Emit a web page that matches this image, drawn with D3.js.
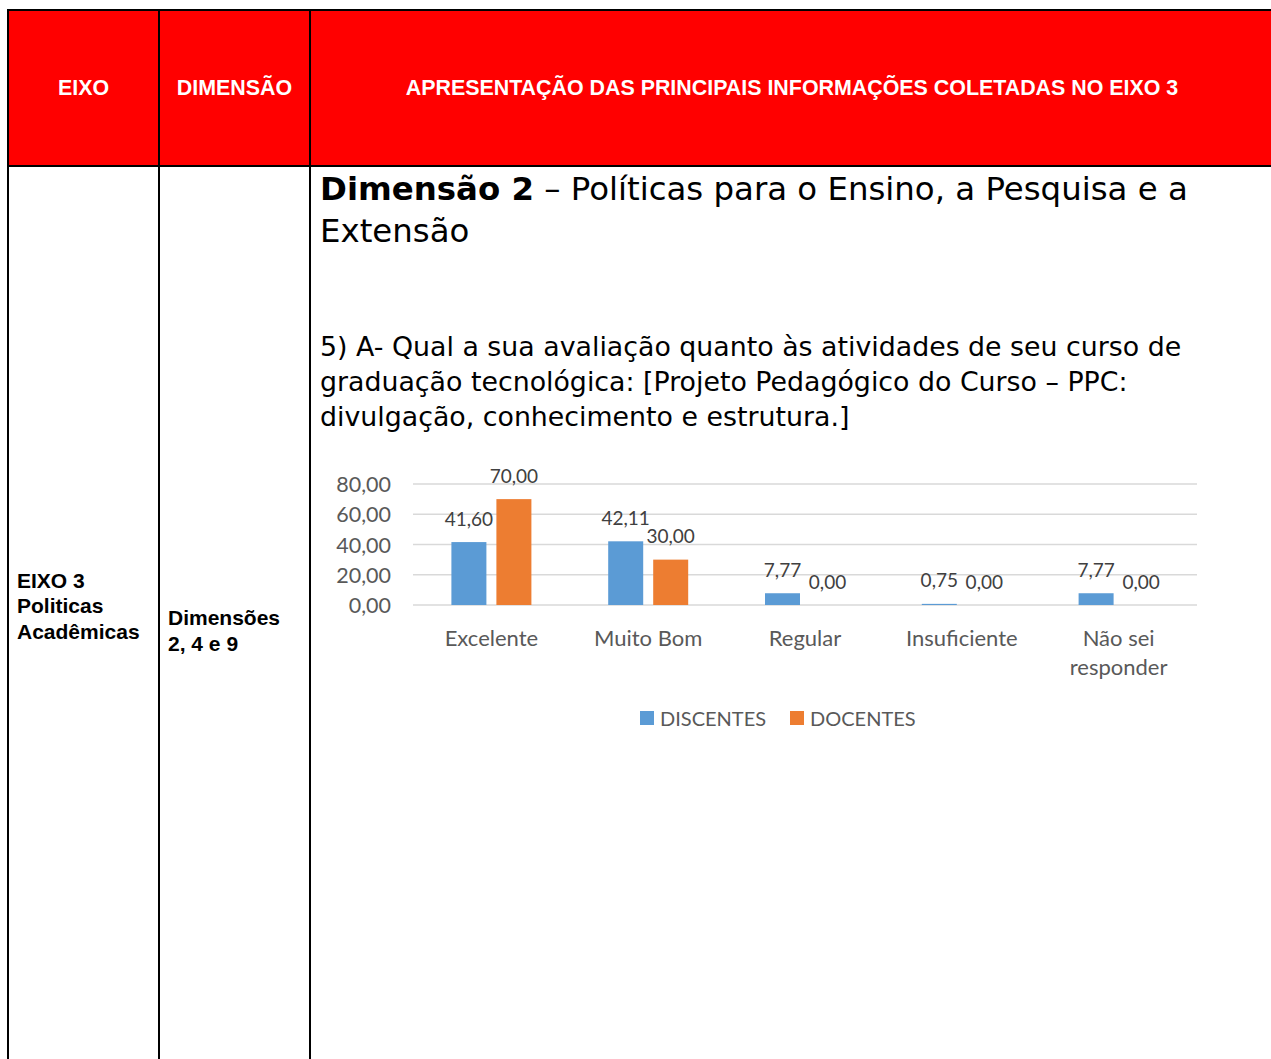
<!DOCTYPE html>
<html>
<head>
<meta charset="utf-8">
<script src="https://cdn.jsdelivr.net/npm/d3@7"></script>
<style>
  html, body { margin: 0; padding: 0; background: #fff; }
</style>
</head>
<body>
<div id="page"></div>
<script>
// chart data
var categories = ["Excelente", "Muito Bom", "Regular", "Insuficiente", "Não sei responder"];
var discentes = [41.60, 42.11, 7.77, 0.75, 7.77];
var docentes = [70.00, 30.00, 0.00, 0.00, 0.00];
var seriesNames = ["DISCENTES", "DOCENTES"];
var yTicks = [0, 20, 40, 60, 80];

// table texts
var headers = ["EIXO", "DIMENSÃO", "APRESENTAÇÃO DAS PRINCIPAIS INFORMAÇÕES COLETADAS NO EIXO 3"];
var eixoLines = ["EIXO 3", "Politicas", "Acadêmicas"];
var dimLines = ["Dimensões", "2, 4 e 9"];
var questionLines = [
  "5) A- Qual a sua avaliação quanto às atividades de seu curso de",
  "graduação tecnológica: [Projeto Pedagógico do Curso – PPC:",
  "divulgação, conhecimento e estrutura.]"
];

var W = 1271, H = 1059;
var colX = [8, 159, 310, 1275];
var tableTop = 10, headBottom = 166;

var svg = d3.select("#page").append("svg")
    .attr("width", W)
    .attr("height", H)
    .style("display", "block");

// header cells
svg.append("rect")
    .attr("x", colX[0]).attr("y", tableTop)
    .attr("width", colX[3] - colX[0]).attr("height", headBottom - tableTop)
    .attr("fill", "#ff0000");

headers.forEach(function(h, i) {
  svg.append("text")
    .attr("x", i == 2 ? 792 : (colX[i] + colX[i + 1]) / 2)
    .attr("y", 88)
    .attr("text-anchor", "middle")
    .attr("dominant-baseline", "central")
    .style("font-family", "'Liberation Sans', Arial, sans-serif")
    .style("font-weight", "bold")
    .style("font-size", "21.4px")
    .attr("fill", "#fff")
    .text(h);
});

// grid lines of the table
var lineColor = "#000";
svg.append("line").attr("x1", colX[0] - 1).attr("x2", W).attr("y1", tableTop).attr("y2", tableTop)
    .attr("stroke", lineColor).attr("stroke-width", 2);
svg.append("line").attr("x1", colX[0] - 1).attr("x2", W).attr("y1", headBottom).attr("y2", headBottom)
    .attr("stroke", lineColor).attr("stroke-width", 2);
colX.slice(0, 3).forEach(function(x) {
  svg.append("line").attr("x1", x).attr("x2", x).attr("y1", tableTop - 1).attr("y2", H + 5)
      .attr("stroke", lineColor).attr("stroke-width", 2);
});

// left column texts
var boldArial = function(sel) {
  sel.style("font-family", "'Liberation Sans', Arial, sans-serif")
     .style("font-weight", "bold")
     .style("font-size", "21px")
     .attr("fill", "#000");
};
eixoLines.forEach(function(t, i) {
  svg.append("text").attr("x", 17).attr("y", 580 + i * 25.5)
    .attr("dominant-baseline", "central").call(boldArial).text(t);
});
dimLines.forEach(function(t, i) {
  svg.append("text").attr("x", 168).attr("y", 617 + i * 26)
    .attr("dominant-baseline", "central").call(boldArial).text(t);
});

// title in the main cell
var verdana = "'DejaVu Sans', Verdana, sans-serif";
var title = svg.append("text")
    .attr("x", 320).attr("y", 189)
    .attr("dominant-baseline", "central")
    .style("font-family", verdana)
    .style("font-size", "32.4px")
    .attr("fill", "#000");
title.append("tspan").style("font-weight", "bold").text("Dimensão 2");
title.append("tspan").text(" – Políticas para o Ensino, a Pesquisa e a");
svg.append("text")
    .attr("x", 320).attr("y", 231)
    .attr("dominant-baseline", "central")
    .style("font-family", verdana)
    .style("font-size", "32.4px")
    .text("Extensão");

questionLines.forEach(function(t, i) {
  svg.append("text")
    .attr("x", 320).attr("y", 346 + i * 35)
    .attr("dominant-baseline", "central")
    .style("font-family", verdana)
    .style("font-size", "26.8px")
    .text(t);
});

// chart
var chartFont = "Lato, 'Open Sans', sans-serif";
var textGray = "#595959";
var fmt = function(v) { return d3.format(".2f")(v).replace(".", ","); };

var x = d3.scaleBand()
    .domain(categories)
    .range([413, 1197]);

var y = d3.scaleLinear()
    .domain([0, 80])
    .range([605, 484]);

var barW = 35, gap = 10;

var chart = svg.append("g");

// gridlines
chart.append("g")
  .selectAll("line")
  .data(yTicks)
  .enter()
  .append("line")
    .attr("x1", x.range()[0])
    .attr("x2", x.range()[1])
    .attr("y1", function(d) { return y(d); })
    .attr("y2", function(d) { return y(d); })
    .attr("stroke", "#d9d9d9")
    .attr("stroke-width", 1.5);

// y tick labels
chart.append("g")
  .selectAll("text")
  .data(yTicks)
  .enter()
  .append("text")
    .attr("x", 391)
    .attr("y", function(d) { return y(d); })
    .attr("text-anchor", "end")
    .attr("dominant-baseline", "central")
    .style("font-family", chartFont)
    .style("font-size", "21.5px")
    .attr("fill", textGray)
    .text(fmt);

var series = [
  {name: seriesNames[0], values: discentes, color: "#5b9bd5", offset: -(barW + gap) / 2},
  {name: seriesNames[1], values: docentes, color: "#ed7d31", offset: (barW + gap) / 2}
];

series.forEach(function(s) {
  var g = chart.append("g");
  g.selectAll("rect")
    .data(s.values)
    .enter()
    .append("rect")
      .attr("x", function(d, i) { return x(categories[i]) + x.bandwidth() / 2 + s.offset - barW / 2; })
      .attr("y", function(d) { return y(d); })
      .attr("width", barW)
      .attr("height", function(d) { return y(0) - y(d); })
      .attr("fill", s.color);

  g.selectAll("text")
    .data(s.values)
    .enter()
    .append("text")
      .attr("x", function(d, i) { return x(categories[i]) + x.bandwidth() / 2 + s.offset; })
      .attr("y", function(d) { return y(d) - 24; })
      .attr("text-anchor", "middle")
      .attr("dominant-baseline", "central")
      .style("font-family", chartFont)
      .style("font-size", "19px")
      .attr("fill", "#404040")
      .text(fmt);
});

// category labels (wrapped like the reference)
var catLines = {"Não sei responder": ["Não sei", "responder"]};
chart.append("g")
  .selectAll("text")
  .data(categories)
  .enter()
  .append("text")
    .attr("text-anchor", "middle")
    .style("font-family", chartFont)
    .style("font-size", "22px")
    .attr("fill", textGray)
    .each(function(d) {
      var lines = catLines[d] || [d];
      var t = d3.select(this);
      lines.forEach(function(l, i) {
        t.append("tspan")
          .attr("x", x(d) + x.bandwidth() / 2)
          .attr("y", 637 + i * 29)
          .attr("dominant-baseline", "central")
          .text(l);
      });
    });

// legend
var legendX = [640, 790];
var legend = chart.append("g");
series.forEach(function(s, i) {
  legend.append("rect")
    .attr("x", legendX[i]).attr("y", 711)
    .attr("width", 14).attr("height", 14)
    .attr("fill", s.color);
  legend.append("text")
    .attr("x", legendX[i] + 20).attr("y", 718)
    .attr("dominant-baseline", "central")
    .style("font-family", chartFont)
    .style("font-size", "20px")
    .attr("fill", textGray)
    .text(s.name);
});
</script>
</body>
</html>
